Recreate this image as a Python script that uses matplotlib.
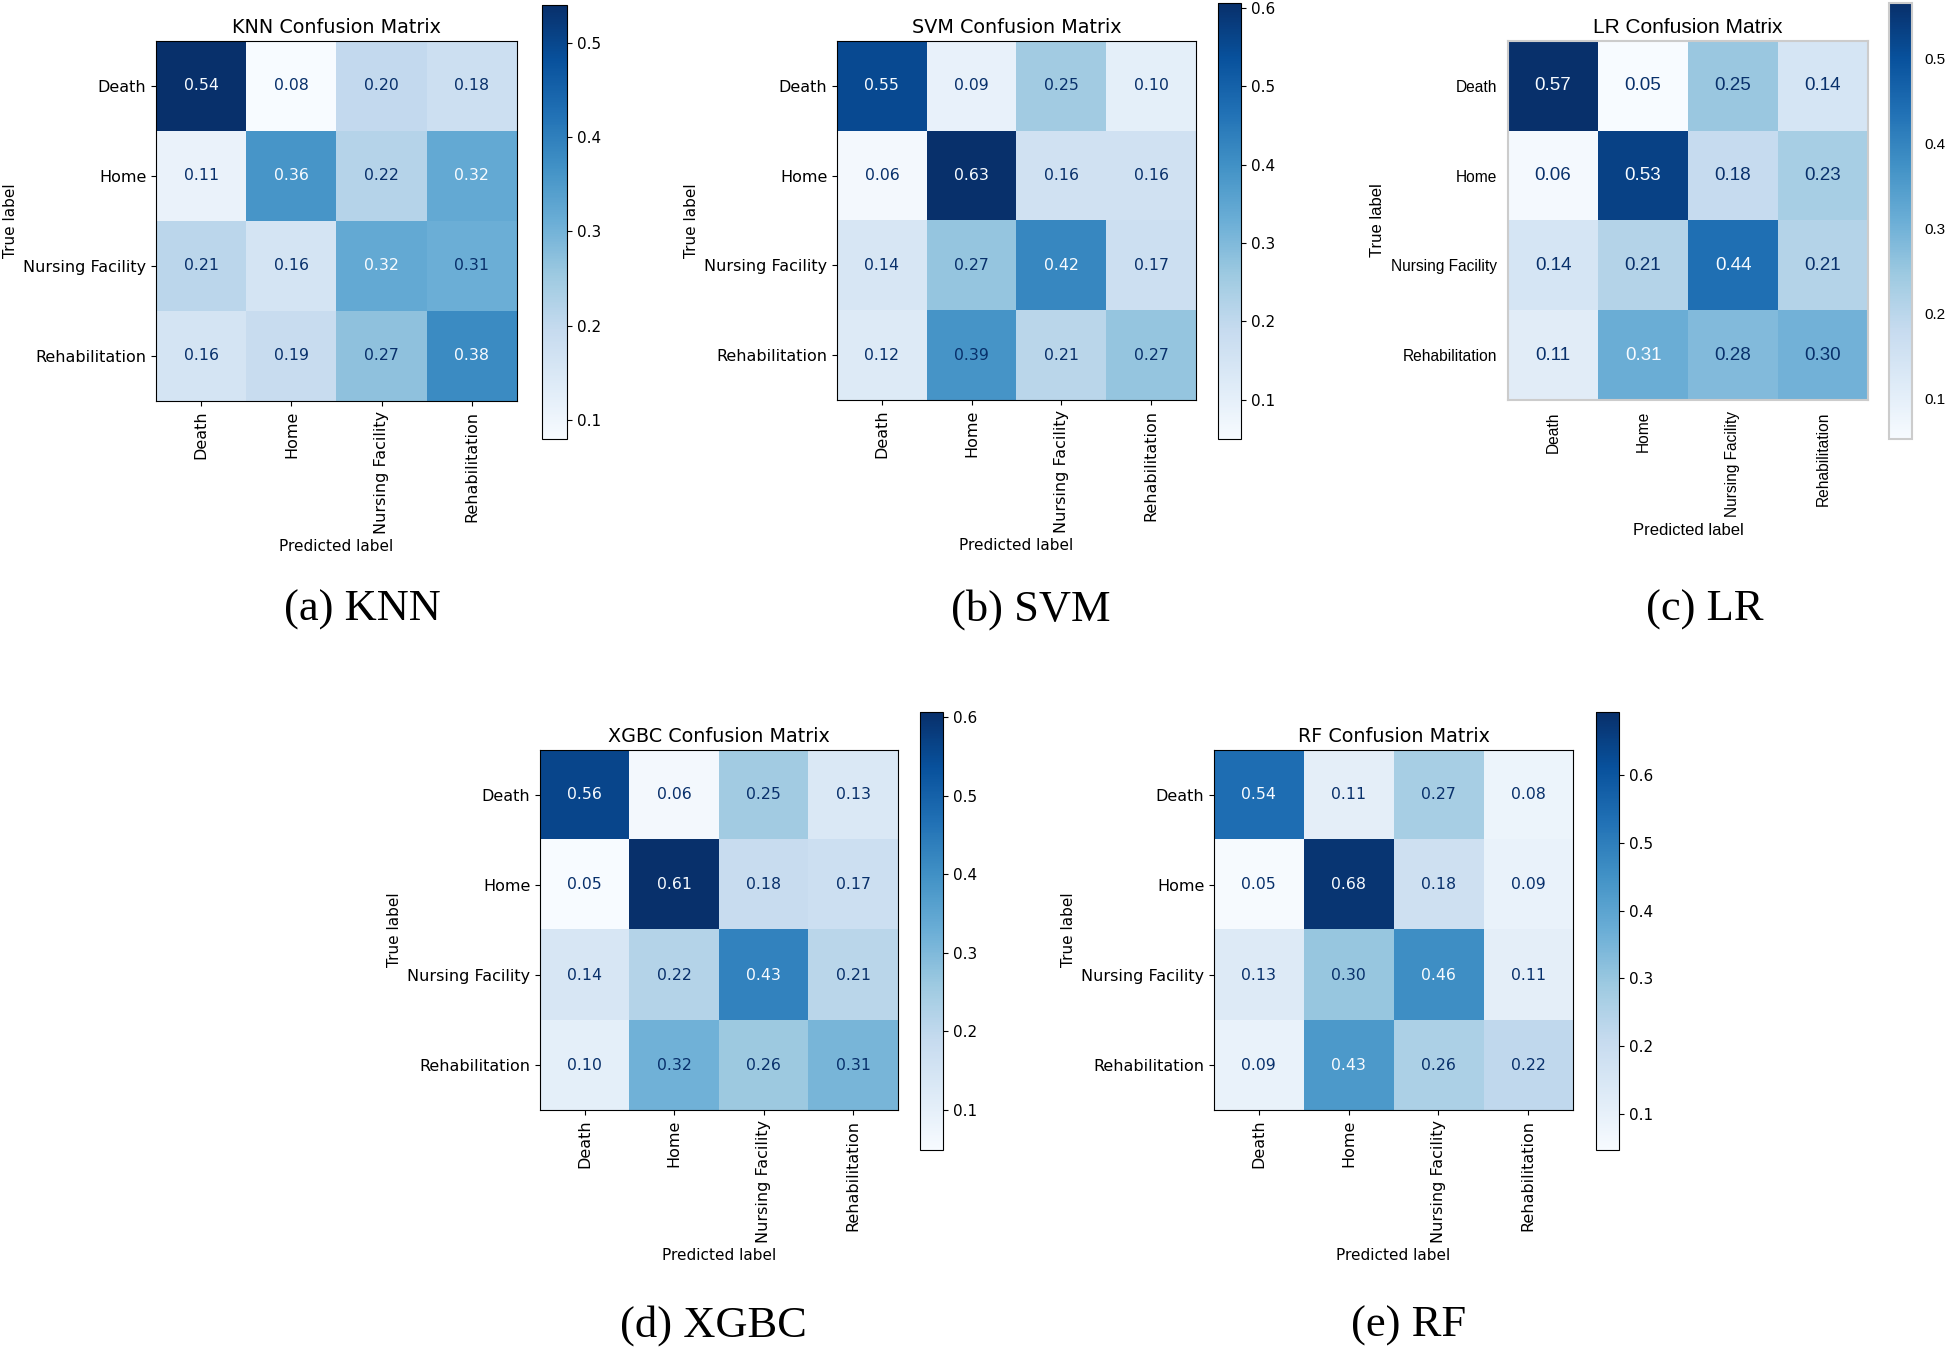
import numpy as np
import matplotlib
matplotlib.use('Agg')
import matplotlib.pyplot as plt

classes = ['Death', 'Home', 'Nursing Facility', 'Rehabilitation']

knn = [[0.54, 0.08, 0.20, 0.18],
       [0.11, 0.36, 0.22, 0.32],
       [0.21, 0.16, 0.32, 0.31],
       [0.16, 0.19, 0.27, 0.38]]

svm = [[0.55, 0.09, 0.25, 0.10],
       [0.06, 0.63, 0.16, 0.16],
       [0.14, 0.27, 0.42, 0.17],
       [0.12, 0.39, 0.21, 0.27]]

lr = [[0.57, 0.05, 0.25, 0.14],
      [0.06, 0.53, 0.18, 0.23],
      [0.14, 0.21, 0.44, 0.21],
      [0.11, 0.31, 0.28, 0.30]]

xgbc = [[0.56, 0.06, 0.25, 0.13],
        [0.05, 0.61, 0.18, 0.17],
        [0.14, 0.22, 0.43, 0.21],
        [0.10, 0.32, 0.26, 0.31]]

rf = [[0.54, 0.11, 0.27, 0.08],
      [0.05, 0.68, 0.18, 0.09],
      [0.13, 0.30, 0.46, 0.11],
      [0.09, 0.43, 0.26, 0.22]]

models = ['KNN', 'SVM', 'LR', 'XGBC', 'RF']
captions = ['(a) KNN', '(b) SVM', '(c) LR', '(d) XGBC', '(e) RF']
matrices = [knn, svm, lr, xgbc, rf]
# colour limits
clims = [(0.08, 0.54), (0.05, 0.606), (0.052, 0.566), (0.049, 0.607), (0.047, 0.693)]
# value above which the cell text turns white
text_cut = [0.315, 0.40, 0.305, 0.365, 0.365]

W, H = 1945, 1349
fig = plt.figure(figsize=(W / 100, H / 100), dpi=100)


def rect(x0, y0, x1, y1):
    return [x0 / W, 1 - y1 / H, (x1 - x0) / W, (y1 - y0) / H]


# pixel boxes: heatmap axes, colorbar axes, caption centre
boxes = [
    ((156, 41, 517, 401), (542, 5, 567, 439), (362, 610)),
    ((837, 41, 1196, 400), (1218, 3, 1241, 439), (1031, 610)),
    ((1508, 41, 1868, 400), (1889, 3, 1912, 439), (1705, 610)),
    ((540, 750, 898, 1110), (920, 712, 943, 1150), (713, 1326)),
    ((1214, 750, 1573, 1110), (1596, 712, 1619, 1150), (1409, 1326)),
]

cmap = plt.cm.Blues
for i, name in enumerate(models):
    cm = np.array(matrices[i])
    axb, cbb, cap = boxes[i]
    ax = fig.add_axes(rect(*axb))
    cax = fig.add_axes(rect(*cbb))
    is_lr = name == 'LR'
    fam = 'Liberation Sans' if is_lr else 'DejaVu Sans'

    im = ax.imshow(cm, cmap=cmap, interpolation='nearest', aspect='auto',
                   vmin=clims[i][0], vmax=clims[i][1])
    cb = fig.colorbar(im, cax=cax)

    for r in range(4):
        for c in range(4):
            col = cmap(0.0) if cm[r, c] > text_cut[i] else cmap(1.0)
            ax.text(c, r, f'{cm[r, c]:.2f}', ha='center', va='center', color=col,
                    fontsize=13.5 if is_lr else 11.3, family=fam)

    ax.set_xticks(range(4))
    ax.set_yticks(range(4))
    ax.set_xticklabels(classes, rotation=90, family=fam, fontsize=11.2 if is_lr else 11.5)
    ax.set_yticklabels(classes, family=fam, fontsize=11.2 if is_lr else 11.5)
    ax.set_xlabel('Predicted label', family=fam, fontsize=12 if is_lr else 11)
    ax.set_ylabel('True label', family=fam, fontsize=12 if is_lr else 11)
    ax.set_title(f'{name} Confusion Matrix', family=fam, fontsize=15 if is_lr else 13.8)
    for lab in cb.ax.get_yticklabels():
        lab.set_family(fam)
    cb.ax.tick_params(labelsize=11)

    if is_lr:
        # seaborn-like look: light grey frame, no tick marks
        for sp in ax.spines.values():
            sp.set_color('#cccccc')
            sp.set_linewidth(1.5)
        ax.tick_params(length=0, pad=8)
        cb.outline.set_edgecolor('#cccccc')
        cb.outline.set_linewidth(1.5)
        cb.ax.tick_params(length=0, pad=9)

    fig.text(cap[0] / W, 1 - cap[1] / H, captions[i], ha='center', va='center',
             family='Liberation Serif', fontsize=32)

fig.savefig('out.png', dpi=100)
